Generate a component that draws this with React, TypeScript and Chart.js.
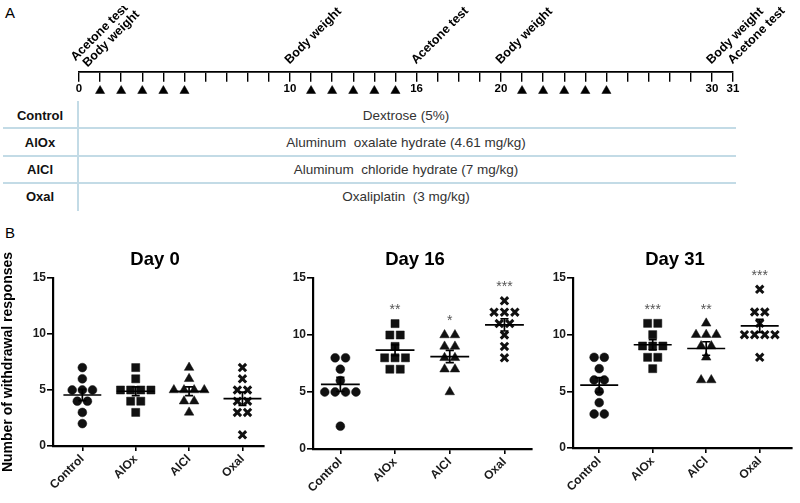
import React, { useEffect, useRef } from "react";
import { Chart, registerables } from "chart.js";

Chart.register(...registerables);

const FONT = "'Liberation Sans', Arial, Helvetica, sans-serif";

// ---------- Part A data ----------
const timelineMin = 0;
const timelineMax = 31;
const labeledDays = [0, 10, 16, 20, 30, 31];
const dosingDays = [1, 2, 3, 4, 5, 11, 12, 13, 14, 15, 21, 22, 23, 24, 25];
const eventDays = [0, 0, 10, 16, 20, 30, 31];
const eventLabels = [
  "Acetone test",
  "Body weight",
  "Body weight",
  "Acetone test",
  "Body weight",
  "Body weight",
  "Acetone test",
];
const tableGroups = ["Control", "AlOx", "AlCl", "Oxal"];
const tableTreatments = [
  "Dextrose (5%)",
  "Aluminum  oxalate hydrate (4.61 mg/kg)",
  "Aluminum  chloride hydrate (7 mg/kg)",
  "Oxaliplatin  (3 mg/kg)",
];

// ---------- Part B data ----------
const groups = ["Control", "AlOx", "AlCl", "Oxal"];
const groupStyles = ["circle", "rect", "triangle", "crossRot"];
const yTicks = [0, 5, 10, 15];
const yTitle = "Number of withdrawal responses";

const day0Control = [7, 6, 5, 5, 5, 4, 4, 3, 2];
const day0AlOx = [7, 6, 5, 5, 5, 5, 4, 4, 3];
const day0AlCl = [7, 6, 5, 5, 5, 5, 4, 4, 3];
const day0Oxal = [7, 6, 5, 5, 4, 4, 3, 3, 1];
const day0Stars = ["", "", "", ""];

const day16Control = [8, 8, 7, 6, 5, 5, 5, 5, 2];
const day16AlOx = [11, 10, 10, 9, 8, 8, 8, 7, 7];
const day16AlCl = [10, 10, 9, 9, 8, 8, 7, 7, 5];
const day16Oxal = [13, 12, 12, 12, 11, 11, 10, 9, 8];
const day16Stars = ["", "**", "*", "***"];

const day31Control = [8, 8, 7, 6, 6, 5, 4, 3, 3];
const day31AlOx = [11, 11, 10, 9, 9, 9, 8, 8, 7];
const day31AlCl = [11, 10, 10, 10, 9, 9, 8, 6, 6];
const day31Oxal = [14, 12, 12, 11, 10, 10, 10, 10, 8];
const day31Stars = ["", "***", "**", "***"];

const panels = [
  { title: "Day 0", values: [day0Control, day0AlOx, day0AlCl, day0Oxal], stars: day0Stars,
    left: 0, width: 272, yWidth: 53, xHeight: 57, xMin: -0.55, xMax: 3.4, padRight: 2, showYTitle: true },
  { title: "Day 16", values: [day16Control, day16AlOx, day16AlCl, day16Oxal], stars: day16Stars,
    left: 272, width: 268, yWidth: 41, xHeight: 54, xMin: -0.5, xMax: 3.5, padRight: 3, showYTitle: false },
  { title: "Day 31", values: [day31Control, day31AlOx, day31AlCl, day31Oxal], stars: day31Stars,
    left: 540, width: 260, yWidth: 33, xHeight: 55, xMin: -0.49, xMax: 3.6, padRight: 0, showYTitle: false },
];

function stats(v: number[]) {
  const n = v.length;
  const mean = v.reduce((a, b) => a + b, 0) / n;
  const sd = Math.sqrt(v.reduce((a, b) => a + (b - mean) * (b - mean), 0) / (n - 1));
  return { mean, sem: sd / Math.sqrt(n) };
}

function spread(values: number[], center: number, step: number) {
  const counts: Record<number, number> = {};
  values.forEach((v) => (counts[v] = (counts[v] || 0) + 1));
  const seen: Record<number, number> = {};
  return values.map((v) => {
    const k = counts[v];
    const j = (seen[v] = (seen[v] ?? -1) + 1);
    return { x: center + (j - (k - 1) / 2) * step, y: v };
  });
}

function Timeline() {
  const ref = useRef<HTMLCanvasElement>(null);
  useEffect(() => {
    const labelPlugin = {
      id: "eventLabels",
      afterDraw(chart: any) {
        const { ctx } = chart;
        const x = chart.scales.x;
        const y = chart.scales.y;
        const axisY = y.getPixelForValue(0);
        ctx.save();
        ctx.font = `bold 12.5px ${FONT}`;
        ctx.fillStyle = "#000";
        ctx.textAlign = "left";
        ctx.textBaseline = "middle";
        eventDays.forEach((d, i) => {
          const same = eventDays.filter((v) => v === d).length;
          const k = eventDays.slice(0, i).filter((v) => v === d).length;
          const rel = k - (same - 1) / 2;
          const dx = same > 1 ? rel * 12 : -3;
          const dy = same > 1 ? rel * 6 : 0;
          ctx.save();
          ctx.translate(x.getPixelForValue(d) + dx, axisY - 10 + dy);
          ctx.rotate(-Math.PI / 4);
          ctx.fillText(eventLabels[i], 0, 0);
          ctx.restore();
        });
        ctx.restore();
      },
    };
    const chart = new Chart(ref.current as HTMLCanvasElement, {
      type: "scatter",
      data: {
        datasets: [
          {
            data: dosingDays.map((d) => ({ x: d, y: -1 })),
            pointStyle: "triangle",
            pointRadius: 5.3,
            pointBackgroundColor: "#000",
            pointBorderColor: "#000",
            pointBorderWidth: 0.5,
            clip: false,
          } as any,
        ],
      },
      options: {
        animation: false,
        responsive: true,
        maintainAspectRatio: false,
        events: [],
        layout: { padding: { left: 79, right: 67, top: 10, bottom: 0 } },
        plugins: { legend: { display: false }, tooltip: { enabled: false } },
        scales: {
          x: {
            type: "linear",
            position: { y: 0 },
            min: timelineMin,
            max: timelineMax,
            afterFit: (s: any) => {
              s.height = 0;
            },
            ticks: {
              stepSize: 1,
              autoSkip: false,
              maxRotation: 0,
              padding: 1,
              color: "#000",
              font: { family: FONT, size: 11.5, weight: "bold" },
              callback: (v: any) => (labeledDays.includes(Number(v)) ? String(v) : ""),
            },
            grid: { drawOnChartArea: false, drawTicks: true, tickLength: 9, color: "#000", lineWidth: 1.4 },
            border: { display: true, color: "#000", width: 1.7 },
          },
          y: { display: false, min: -1.5, max: 3 },
        },
      } as any,
      plugins: [labelPlugin],
    });
    return () => chart.destroy();
  }, []);
  return (
    <div style={{ position: "absolute", left: 0, top: 6, width: 800, height: 100 }}>
      <canvas ref={ref} />
    </div>
  );
}

function Table() {
  const rowCenters = [116, 143, 170, 197];
  const lineYs = [128, 156, 183];
  return (
    <>
      {tableGroups.map((g, i) => (
        <div
          key={"g" + i}
          style={{
            position: "absolute", left: 0, width: 80, top: rowCenters[i] - 9, height: 18,
            lineHeight: "18px", textAlign: "center", fontWeight: "bold", fontSize: 13, color: "#111",
          }}
        >
          {g}
        </div>
      ))}
      {tableTreatments.map((t, i) => (
        <div
          key={"t" + i}
          style={{
            position: "absolute", left: 79, width: 654, top: rowCenters[i] - 9, height: 18,
            lineHeight: "18px", textAlign: "center", fontSize: 13.5, color: "#333", whiteSpace: "pre",
          }}
        >
          {t}
        </div>
      ))}
      {lineYs.map((y, i) => (
        <div key={"l" + i} style={{ position: "absolute", left: 3, width: 733, top: y - 1, height: 2, background: "#c3dbe6" }} />
      ))}
      <div style={{ position: "absolute", left: 77, top: 101, width: 2, height: 110, background: "#c3dbe6" }} />
    </>
  );
}

function Panel({ cfg }: { cfg: (typeof panels)[number] }) {
  const ref = useRef<HTMLCanvasElement>(null);
  useEffect(() => {
    const pointDatasets = cfg.values.map((vals, i) => ({
      data: spread(vals, i, 0.19),
      pointStyle: groupStyles[i],
      pointRadius: groupStyles[i] === "circle" ? 4.4 : groupStyles[i] === "rect" ? 5.7 : groupStyles[i] === "triangle" ? 5.5 : 5.2,
      pointBackgroundColor: "#111",
      pointBorderColor: "#111",
      pointBorderWidth: groupStyles[i] === "crossRot" ? 3 : 0.5,
      order: 2,
      clip: false,
    }));
    const meanData: any[] = [];
    const semData: any[] = [];
    cfg.values.forEach((vals, i) => {
      const { mean, sem } = stats(vals);
      meanData.push({ x: i - 0.355, y: mean }, { x: i + 0.355, y: mean }, { x: i, y: null });
      const hi = mean + sem;
      const lo = mean - sem;
      semData.push(
        { x: i - 0.075, y: hi }, { x: i + 0.075, y: hi }, { x: i, y: null },
        { x: i, y: hi }, { x: i, y: lo }, { x: i, y: null },
        { x: i - 0.075, y: lo }, { x: i + 0.075, y: lo }, { x: i, y: null }
      );
    });
    const lineDs = (data: any[]) => ({
      data,
      showLine: true,
      spanGaps: false,
      pointRadius: 0,
      borderColor: "#000",
      borderWidth: 1.7,
      order: 1,
      clip: false,
    });
    const annot = {
      id: "panelAnnot",
      afterDraw(chart: any) {
        const { ctx, chartArea } = chart;
        const x = chart.scales.x;
        const y = chart.scales.y;
        ctx.save();
        ctx.fillStyle = "#000";
        ctx.textAlign = "center";
        ctx.textBaseline = "middle";
        ctx.font = `bold 18.5px ${FONT}`;
        ctx.fillText(cfg.title, chartArea.left + 102, chartArea.top - 18);
        ctx.font = `14px ${FONT}`;
        ctx.fillStyle = "#555";
        cfg.stars.forEach((s, i) => {
          if (!s) return;
          const mx = Math.max(...cfg.values[i]);
          ctx.fillText(s, x.getPixelForValue(i), y.getPixelForValue(mx + 1.2));
        });
        ctx.restore();
      },
    };
    const chart = new Chart(ref.current as HTMLCanvasElement, {
      type: "scatter",
      data: { datasets: [lineDs(meanData), lineDs(semData), ...pointDatasets] as any },
      options: {
        animation: false,
        responsive: true,
        maintainAspectRatio: false,
        events: [],
        layout: { padding: { left: 0, right: cfg.padRight, top: 38, bottom: 0 } },
        plugins: { legend: { display: false }, tooltip: { enabled: false } },
        scales: {
          x: {
            type: "linear",
            min: cfg.xMin,
            max: cfg.xMax,
            afterBuildTicks: (s: any) => {
              s.ticks = groups.map((_, i) => ({ value: i }));
            },
            afterFit: (s: any) => {
              s.height = cfg.xHeight;
            },
            ticks: {
              autoSkip: false,
              minRotation: 45,
              maxRotation: 45,
              padding: 1,
              color: "#1a1a1a",
              font: { family: FONT, size: 12, weight: "bold" },
              callback: (v: any) => groups[Number(v)] ?? "",
            },
            grid: { drawOnChartArea: false, drawTicks: true, tickLength: 5, color: "#000", lineWidth: 1.6 },
            border: { display: true, color: "#000", width: 2.2 },
          },
          y: {
            min: 0,
            max: 15,
            afterBuildTicks: (s: any) => {
              s.ticks = yTicks.map((v) => ({ value: v }));
            },
            afterFit: (s: any) => {
              s.width = cfg.yWidth;
            },
            ticks: { padding: 1, color: "#1a1a1a", font: { family: FONT, size: 12, weight: "bold" } },
            grid: { drawOnChartArea: false, drawTicks: true, tickLength: 6, color: "#000", lineWidth: 1.6 },
            border: { display: true, color: "#000", width: 2.2 },
            title: {
              display: cfg.showYTitle,
              text: yTitle,
              color: "#000",
              font: { family: FONT, size: 14, weight: "bold" },
              padding: { top: 0, bottom: 0 },
            },
          },
        },
      } as any,
      plugins: [annot],
    });
    return () => chart.destroy();
  }, [cfg]);
  return (
    <div style={{ position: "absolute", left: cfg.left, top: 240, width: cfg.width, height: 263 }}>
      <canvas ref={ref} />
    </div>
  );
}

export default function App() {
  return (
    <div
      style={{
        position: "absolute", left: 0, top: 0, width: 800, height: 503, background: "#fff",
        fontFamily: FONT, overflow: "hidden",
      }}
    >
      <div style={{ position: "absolute", left: 5, top: 4, fontSize: 15, color: "#000" }}>A</div>
      <Timeline />
      <Table />
      <div style={{ position: "absolute", left: 5, top: 224, fontSize: 15, color: "#000" }}>B</div>
      {panels.map((p, i) => (
        <Panel key={i} cfg={p} />
      ))}
    </div>
  );
}
